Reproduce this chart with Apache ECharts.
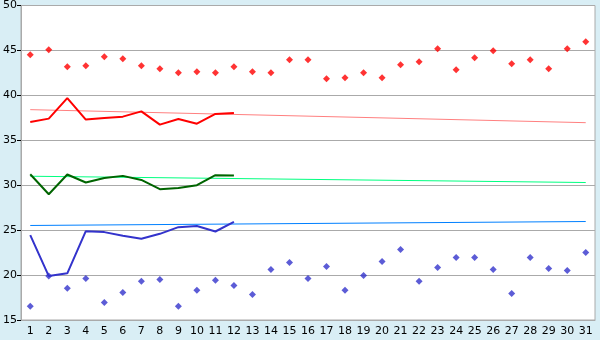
<!DOCTYPE html>
<html><head><meta charset="utf-8">
<script src="https://cdn.jsdelivr.net/npm/echarts@6/dist/echarts.min.js"></script>
<style>html,body{margin:0;padding:0;background:#d9eef5}#c{width:600px;height:340px}</style>
</head><body><div id="c"></div>
<script>
const categories = Array.from({length:31},(_,i)=>String(i+1));
const redPoints = [44.52,45.08,43.19,43.3,44.3,44.07,43.3,42.96,42.52,42.63,42.52,43.19,42.63,42.52,43.96,43.96,41.85,41.96,42.52,41.96,43.41,43.74,45.19,42.85,44.19,44.96,43.52,43.96,42.96,45.19,45.96];
const redLine = [37.04,37.41,39.7,37.3,37.48,37.63,38.22,36.74,37.37,36.85,37.93,38.04];
const redTrend = [['1',38.41],['31',36.96]];
const greenLine = [31.22,29.0,31.19,30.3,30.81,31.04,30.59,29.56,29.7,30.0,31.11,31.07];
const greenTrend = [['1',31.0],['31',30.3]];
const blueLine = [24.44,19.89,20.19,24.89,24.78,24.37,24.04,24.59,25.33,25.46,24.85,25.93];
const blueTrend = [['1',25.52],['31',25.96]];
const bluePoints = [16.52,19.9,18.52,19.63,16.96,18.07,19.3,19.52,16.52,18.3,19.41,18.85,17.85,20.63,21.41,19.63,20.96,18.3,19.96,21.52,22.85,19.3,20.85,21.96,21.96,20.63,17.96,21.96,20.74,20.52,22.52];
const yTicks = {min:15,max:50,interval:5};

const chart = echarts.init(document.getElementById('c'));
const font = {fontFamily:'DejaVu Sans',fontSize:11,color:'#000'};
chart.setOption({
  animation:false,
  backgroundColor:'#d9eef5',
  grid:{left:20,right:5,top:5,bottom:20,show:true,backgroundColor:'#fff',borderColor:'#aaaaaa',borderWidth:1},
  xAxis:{type:'category',data:categories,boundaryGap:true,
    axisLine:{lineStyle:{color:'#aaaaaa'}},
    axisTick:{alignWithLabel:true,length:5,lineStyle:{color:'#000'}},
    axisLabel:Object.assign({interval:0,margin:6},font)},
  yAxis:{type:'value',min:yTicks.min,max:yTicks.max,interval:yTicks.interval,
    axisLine:{show:true,lineStyle:{color:'#aaaaaa'}},
    axisTick:{show:true,length:4,lineStyle:{color:'#000'}},
    splitLine:{lineStyle:{color:'#aaaaaa'}},
    axisLabel:Object.assign({margin:4},font)},
  series:[
    {type:'line',data:redTrend,symbol:'none',lineStyle:{color:'#ff8080',width:1},z:2},
    {type:'line',data:greenTrend,symbol:'none',lineStyle:{color:'#00ff80',width:1},z:2},
    {type:'line',data:blueTrend,symbol:'none',lineStyle:{color:'#0080ff',width:1},z:2},
    {type:'line',data:redLine,symbol:'none',lineStyle:{color:'#ff0000',width:2},z:3},
    {type:'line',data:greenLine,symbol:'none',lineStyle:{color:'#006400',width:2},z:3},
    {type:'line',data:blueLine,symbol:'none',lineStyle:{color:'#3333cc',width:2},z:3},
    {type:'scatter',data:redPoints,symbol:'diamond',symbolSize:7,itemStyle:{color:'#ff0000'},z:4},
    {type:'scatter',data:bluePoints,symbol:'diamond',symbolSize:7,itemStyle:{color:'#3333cc'},z:4}
  ]
});
</script></body></html>
